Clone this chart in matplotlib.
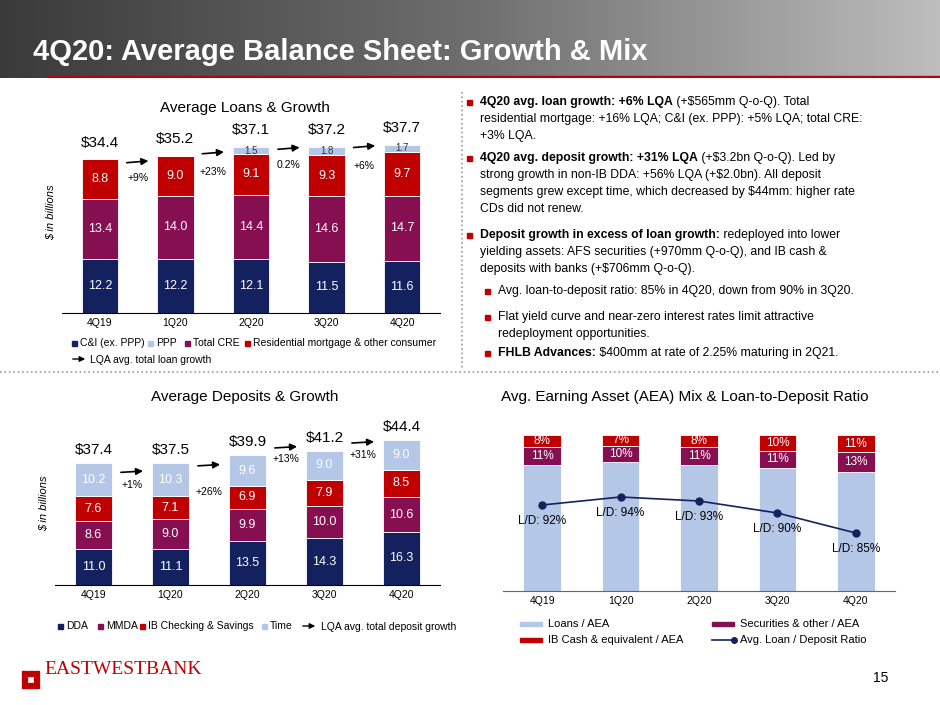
import numpy as np
import matplotlib.pyplot as plt
from matplotlib.patches import Rectangle

W, H = 940, 705
quarters = ['4Q19', '1Q20', '2Q20', '3Q20', '4Q20']

# Average loans ($bn)
ci = [12.2, 12.2, 12.1, 11.5, 11.6]
cre = [13.4, 14.0, 14.4, 14.6, 14.7]
resi = [8.8, 9.0, 9.1, 9.3, 9.7]
ppp = [0, 0, 1.5, 1.8, 1.7]
loan_tot = ['$34.4', '$35.2', '$37.1', '$37.2', '$37.7']
loan_growth = ['+9%', '+23%', '0.2%', '+6%']

# Average deposits ($bn)
dda = [11.0, 11.1, 13.5, 14.3, 16.3]
mmda = [8.6, 9.0, 9.9, 10.0, 10.6]
ibcs = [7.6, 7.1, 6.9, 7.9, 8.5]
time_d = [10.2, 10.3, 9.6, 9.0, 9.0]
dep_tot = ['$37.4', '$37.5', '$39.9', '$41.2', '$44.4']
dep_growth = ['+1%', '+26%', '+13%', '+31%']

# AEA mix (%)
sec = [11, 10, 11, 11, 13]
cash = [8, 7, 8, 10, 11]
loans_aea = [100 - s - c for s, c in zip(sec, cash)]
ld_ratio = [92, 94, 93, 90, 85]

NAVY = '#14215F'
PURP = '#860F52'
RED = '#C00000'
LBLUE = '#B4C7E7'

plt.rcParams['font.family'] = ['Liberation Sans', 'DejaVu Sans']
fig = plt.figure(figsize=(9.4, 7.05), dpi=100)


def ax_px(l, t, r, b):
    return fig.add_axes([l / W, 1 - b / H, (r - l) / W, (b - t) / H])


def ftxt(x, y, s, **kw):
    return fig.text(x / W, 1 - y / H, s, **kw)


# header band
hdr = fig.add_axes([0, 1 - 78 / H, 1, 78 / H])
grad = np.linspace(0, 1, 256).reshape(1, -1)
hdr.imshow(grad, aspect='auto', cmap=plt.matplotlib.colors.LinearSegmentedColormap.from_list('g', ['#3a3a3a', '#6e6e6e', '#bdbdbd']),
           extent=[0, 1, 0, 1])
hdr.add_patch(Rectangle((0.05, 0.0), 0.95, 0.03, color=RED, transform=hdr.transAxes))
hdr.axis('off')
ftxt(33, 52, '4Q20: Average Balance Sheet: Growth & Mix', fontsize=21, fontweight='bold', color='white', va='center')

# separators
fig.add_artist(plt.Line2D([0, 938 / W], [1 - 372 / H] * 2, ls=':', color='#999999', lw=1.2))
fig.add_artist(plt.Line2D([462 / W] * 2, [1 - 92 / H, 1 - 370 / H], ls=':', color='#999999', lw=1.2))


def label_stack(ax, x, bottoms, vals, color='white', fs=9):
    for xi, b, v in zip(x, bottoms, vals):
        if v > 0:
            ax.text(xi, b + v / 2, f'{v:.1f}', ha='center', va='center', color=color, fontsize=fs)


def arrows(ax, x, arr_y, lab_y, labels):
    for i, lab in enumerate(labels):
        xm = (x[i] + x[i + 1]) / 2
        ax.annotate('', xy=(xm + 0.18, arr_y[i] + 0.5), xytext=(xm - 0.18, arr_y[i]),
                    arrowprops=dict(arrowstyle='-|>', color='black', lw=1.2))
        ax.text(xm, lab_y[i], lab, ha='center', va='center', fontsize=7.5)


# ---- Average loans ----
ax1 = ax_px(62, 112, 440, 313)
x = np.arange(5)
bw = 0.48
b = np.zeros(5)
for vals, col in [(ci, NAVY), (cre, PURP), (resi, RED), (ppp, LBLUE)]:
    ax1.bar(x, vals, bw, bottom=b, color=col, edgecolor='white', linewidth=0.6)
    label_stack(ax1, x, b, vals, color='white' if col != LBLUE else '#333333', fs=9 if col != LBLUE else 7)
    b = b + np.array(vals)
for xi, t, s in zip(x, b, loan_tot):
    ax1.text(xi, t + 2.2, s, ha='center', va='bottom', fontsize=11)
arrows(ax1, x, [33.6, 35.6, 36.6, 37.0], [30.3, 31.6, 33.2, 33.0], loan_growth)
ax1.set_xlim(-0.5, 4.5)
ax1.set_ylim(0, 45)
ax1.set_xticks(x, quarters, fontsize=7.5)
ax1.tick_params(length=0)
ax1.set_yticks([])
for s in ['top', 'right', 'left']:
    ax1.spines[s].set_visible(False)
ax1.set_ylabel('$ in billions', fontsize=8, style='italic')
ftxt(245, 108, 'Average Loans & Growth', fontsize=11, ha='center', va='center')
for lx, lbl, col in [(72, 'C&I (ex. PPP)', NAVY), (148, 'PPP', LBLUE), (185, 'Total CRE', PURP), (245, 'Residential mortgage & other consumer', RED)]:
    fig.add_artist(Rectangle((lx / W, 1 - 346 / H), 5 / W, 5 / H, color=col))
    ftxt(lx + 8, 343, lbl, fontsize=7.5, va='center')
fig.add_artist(plt.matplotlib.patches.FancyArrowPatch((70 / W, 1 - 359 / H), (88 / W, 1 - 359 / H),
               arrowstyle='-|>', mutation_scale=8, color='black', lw=1))
ftxt(90, 360, 'LQA avg. total loan growth', fontsize=7.5, va='center')

# ---- Average deposits ----
ax2 = ax_px(55, 422, 440, 585)
b = np.zeros(5)
for vals, col in [(dda, NAVY), (mmda, PURP), (ibcs, RED), (time_d, LBLUE)]:
    ax2.bar(x, vals, bw, bottom=b, color=col, edgecolor='white', linewidth=0.6)
    label_stack(ax2, x, b, vals, fs=9)
    b = b + np.array(vals)
for xi, t, s in zip(x, b, dep_tot):
    ax2.text(xi, t + 1.8, s, ha='center', va='bottom', fontsize=11)
arrows(ax2, x, [34.5, 36.5, 42.0, 43.5], [30.8, 28.5, 38.5, 40.0], dep_growth)
ax2.set_xlim(-0.5, 4.5)
ax2.set_ylim(0, 50)
ax2.set_xticks(x, quarters, fontsize=7.5)
ax2.tick_params(length=0)
ax2.set_yticks([])
for s in ['top', 'right', 'left']:
    ax2.spines[s].set_visible(False)
ax2.set_ylabel('$ in billions', fontsize=8, style='italic')
ftxt(245, 397, 'Average Deposits & Growth', fontsize=11, ha='center', va='center')
for lx, lbl, col in [(58, 'DDA', NAVY), (98, 'MMDA', PURP), (140, 'IB Checking & Savings', RED), (262, 'Time', LBLUE)]:
    fig.add_artist(Rectangle((lx / W, 1 - 629 / H), 5 / W, 5 / H, color=col))
    ftxt(lx + 8, 626, lbl, fontsize=7.5, va='center')
fig.add_artist(plt.matplotlib.patches.FancyArrowPatch((300 / W, 1 - 626 / H), (318 / W, 1 - 626 / H),
               arrowstyle='-|>', mutation_scale=8, color='black', lw=1))
ftxt(321, 627, 'LQA avg. total deposit growth', fontsize=7.5, va='center')

# ---- AEA mix ----
ax3 = ax_px(503, 435, 895, 591)
b = np.zeros(5)
for vals, col in [(loans_aea, LBLUE), (sec, PURP), (cash, RED)]:
    ax3.bar(x, vals, bw, bottom=b, color=col, edgecolor='white', linewidth=0.6)
    if col != LBLUE:
        for xi, bb, v in zip(x, b, vals):
            ax3.text(xi, bb + v / 2, f'{v}%', ha='center', va='center', color='white', fontsize=8.5)
    b = b + np.array(vals)
ax3.set_xlim(-0.5, 4.5)
ax3.set_ylim(0, 100)
ax3.set_xticks(x, quarters, fontsize=7.5)
ax3.tick_params(length=0)
ax3.set_yticks([])
for s in ['top', 'right', 'left']:
    ax3.spines[s].set_visible(False)
ax3.spines['bottom'].set_color('#666666')
ax3t = ax3.twinx()
ax3t.plot(x, ld_ratio, color=NAVY, marker='o', ms=5, lw=1.2)
for xi, v in zip(x, ld_ratio):
    ax3t.text(xi, v - 4, f'L/D: {v}%', ha='center', va='center', fontsize=8.5)
ax3t.set_ylim(70.5, 109.5)
ax3t.axis('off')
ftxt(685, 397, 'Avg. Earning Asset (AEA) Mix & Loan-to-Deposit Ratio', fontsize=11, ha='center', va='center')
for lx, ly, lbl, col in [(520, 624, 'Loans / AEA', LBLUE), (712, 624, 'Securities & other / AEA', PURP),
                         (520, 640, 'IB Cash & equivalent / AEA', RED)]:
    fig.add_artist(Rectangle((lx / W, 1 - (ly + 2) / H), 22 / W, 4 / H, color=col))
    ftxt(lx + 28, ly, lbl, fontsize=8, va='center')
fig.add_artist(plt.Line2D([712 / W, 734 / W], [1 - 640 / H] * 2, color=NAVY, lw=1.2, marker='o', ms=4, markevery=[1]))
ftxt(740, 640, 'Avg. Loan / Deposit Ratio', fontsize=8, va='center')

# ---- bullets ----
bullets = [
    (480, 102, ['4Q20 avg. loan growth: +6% LQA (+$565mm Q-o-Q). Total',
                'residential mortgage: +16% LQA; C&I (ex. PPP): +5% LQA; total CRE:',
                '+3% LQA.'], '4Q20 avg. loan growth: +6% LQA'),
    (480, 158, ['4Q20 avg. deposit growth: +31% LQA (+$3.2bn Q-o-Q). Led by',
                'strong growth in non-IB DDA: +56% LQA (+$2.0bn). All deposit',
                'segments grew except time, which decreased by $44mm: higher rate',
                'CDs did not renew.'], '4Q20 avg. deposit growth: +31% LQA'),
    (480, 235, ['Deposit growth in excess of loan growth: redeployed into lower',
                'yielding assets: AFS securities (+970mm Q-o-Q), and IB cash &',
                'deposits with banks (+$706mm Q-o-Q).'], 'Deposit growth in excess of loan growth:'),
    (498, 291, ['Avg. loan-to-deposit ratio: 85% in 4Q20, down from 90% in 3Q20.'], None),
    (498, 317, ['Flat yield curve and near-zero interest rates limit attractive',
                'redeployment opportunities.'], None),
    (498, 353, ['FHLB Advances: $400mm at rate of 2.25% maturing in 2Q21.'], 'FHLB Advances:'),
]
lh = 17
fs_b = 8.8
for bx, by, lines, bold in bullets:
    fig.add_artist(Rectangle(((bx - 13) / W, 1 - (by + 3) / H), 5 / W, 5 / H, color=RED))
    for i, ln in enumerate(lines):
        if i == 0 and bold:
            t = ftxt(bx, by, bold, fontsize=fs_b, fontweight='bold', va='center')
            fig.canvas.draw()
            bb = t.get_window_extent()
            fig.text(bb.x1 / W, 1 - by / H, ln[len(bold):], fontsize=fs_b, va='center')
        else:
            ftxt(bx, by + i * lh, ln, fontsize=fs_b, va='center')

# ---- logo & page ----
for dx, dy in [(0, 0), (6, 0), (12, 0), (0, 6), (12, 6), (0, 12), (6, 12), (12, 12)]:
    fig.add_artist(Rectangle(((22 + dx) / W, 1 - (676 + dy) / H), 5 / W, 5 / H, color=RED))
ftxt(44, 670, 'EASTWESTBANK', fontsize=14, color=RED, va='center', family=['Liberation Serif'])
ftxt(888, 678, '15', fontsize=10, ha='right', va='center')

fig.savefig('out.png', dpi=100)
